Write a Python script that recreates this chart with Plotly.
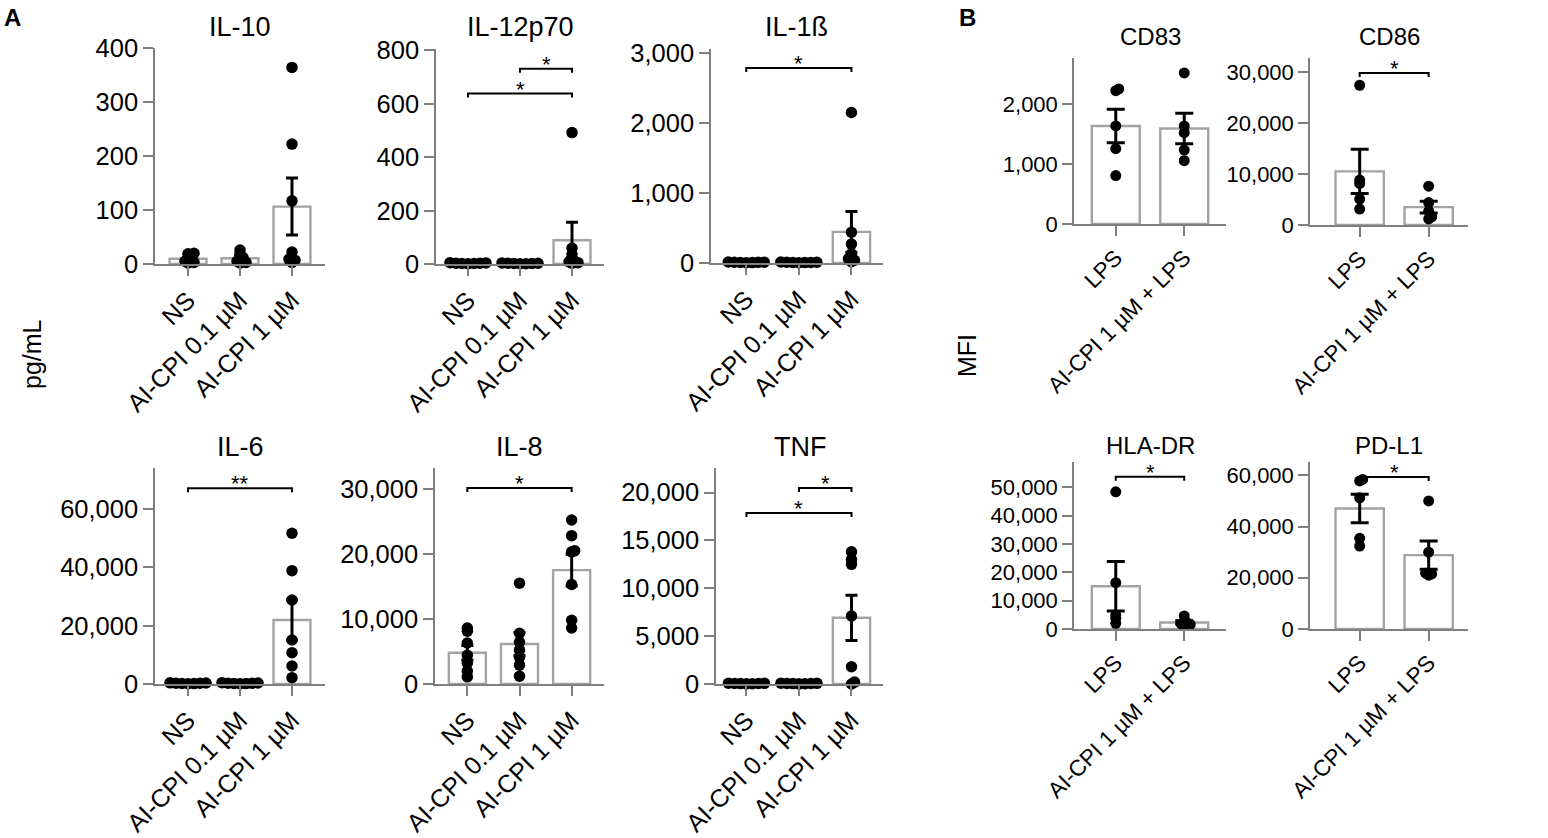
import plotly.graph_objects as go
import numpy as np

W, H = 1548, 838
FONT = "Liberation Sans, Arial, sans-serif"

# ---------------- data ----------------
groups_A = ["NS", "AI-CPI 0.1 µM", "AI-CPI 1 µM"]
groups_B = ["LPS", "AI-CPI 1 µM + LPS"]

il10_ns = [20, 19, 12, 8, 5, 3, 2]
il10_low = [26, 19, 12, 8, 5, 3, 2]
il10_high = [364, 222, 117, 22, 9, 7, 3]

il12_ns = [4, 3, 3, 2, 2, 1, 5]
il12_low = [4, 3, 2, 2, 1, 1, 3]
il12_high = [492, 60, 35, 20, 8, 5, 3]

il1b_ns = [15, 10, 8, 5, 12, 6, 9]
il1b_low = [14, 11, 7, 5, 10, 6, 8]
il1b_high = [2150, 440, 270, 130, 60, 40, 20]

il6_ns = [400, 300, 250, 200, 150, 100, 350]
il6_low = [450, 350, 300, 200, 150, 120, 250]
il6_high = [51700, 38870, 28800, 15100, 10740, 6170, 2170]

il8_ns = [8600, 8100, 6300, 4400, 3200, 2000, 1100]
il8_low = [15500, 7800, 6400, 5200, 4100, 2900, 1200]
il8_high = [25200, 22800, 20500, 20300, 15300, 9800, 8600]

tnf_ns = [80, 60, 50, 40, 30, 20, 70]
tnf_low = [90, 70, 60, 50, 40, 30, 20]
tnf_high = [13800, 13000, 12500, 7100, 1800, 200, 0]

cd83_lps = [2260, 2230, 1640, 1260, 810]
cd83_ai = [2527, 1638, 1527, 1238, 1060]

cd86_lps = [27400, 8800, 8160, 5090, 3130]
cd86_ai = [7600, 4400, 2700, 1600, 1200]

hladr_lps = [48470, 16350, 4940, 3770, 2000]
hladr_ai = [4600, 2200, 1800, 1600, 1400]

pdl1_lps = [58400, 57800, 51200, 35400, 32400]
pdl1_ai = [50000, 30000, 21500, 21000, 21800]

# y tick values per panel
ticks_il10 = [0, 100, 200, 300, 400]
ticks_il12 = [0, 200, 400, 600, 800]
ticks_il1b = [0, 1000, 2000, 3000]
ticks_il6 = [0, 20000, 40000, 60000]
ticks_il8 = [0, 10000, 20000, 30000]
ticks_tnf = [0, 5000, 10000, 15000, 20000]
ticks_cd83 = [0, 1000, 2000]
ticks_cd86 = [0, 10000, 20000, 30000]
ticks_hladr = [0, 10000, 20000, 30000, 40000, 50000]
ticks_pdl1 = [0, 20000, 40000, 60000]

# significance brackets: (panel, from group, to group, height, label)
brackets = [
    ("IL-12p70", 1, 2, 731, "*"),
    ("IL-12p70", 0, 2, 638, "*"),
    ("IL-1ß", 0, 2, 2786, "*"),
    ("IL-6", 0, 2, 67140, "**"),
    ("IL-8", 0, 2, 30110, "*"),
    ("TNF", 1, 2, 20470, "*"),
    ("TNF", 0, 2, 17860, "*"),
    ("CD86", 0, 1, 29800, "*"),
    ("HLA-DR", 0, 1, 53760, "*"),
    ("PD-L1", 0, 1, 59380, "*"),
]

# ---------------- layout (pixel boxes) ----------------
panels = [
    # name, groups, data, (x0, x1, ytop, ybottom), xrange, ymax, ticks, style, title_y
    ("IL-10", groups_A, [il10_ns, il10_low, il10_high], (155, 325, 48, 264), [-0.635, 2.635], 400, ticks_il10, "A", 27),
    ("IL-12p70", groups_A, [il12_ns, il12_low, il12_high], (436, 604, 49, 264), [-0.615, 2.615], 805, ticks_il12, "A", 27),
    ("IL-1ß", groups_A, [il1b_ns, il1b_low, il1b_high], (711, 883, 49, 263), [-0.67, 2.6], 3057, ticks_il1b, "A", 27),
    ("IL-6", groups_A, [il6_ns, il6_low, il6_high], (155, 325, 468, 684), [-0.635, 2.635], 74100, ticks_il6, "A", 447),
    ("IL-8", groups_A, [il8_ns, il8_low, il8_high], (435, 604, 468, 684), [-0.62, 2.62], 33200, ticks_il8, "A", 447),
    ("TNF", groups_A, [tnf_ns, tnf_low, tnf_high], (716, 883, 468, 684), [-0.58, 2.6], 22560, ticks_tnf, "A", 447),
    ("CD83", groups_B, [cd83_lps, cd83_ai], (1074, 1226, 58, 224), [-0.61, 1.61], 2777, ticks_cd83, "B", 37),
    ("CD86", groups_B, [cd86_lps, cd86_ai], (1310, 1468, 58, 225), [-0.72, 1.57], 32740, ticks_cd86, "B", 37),
    ("HLA-DR", groups_B, [hladr_lps, hladr_ai], (1074, 1226, 462, 629), [-0.61, 1.61], 59000, ticks_hladr, "B", 445),
    ("PD-L1", groups_B, [pdl1_lps, pdl1_ai], (1310, 1468, 462, 629), [-0.72, 1.57], 65200, ticks_pdl1, "B", 445),
]

STYLE = {
    "A": dict(tick=25.5, xtick=25, title=27, marker=11.5, cap=6, barw=0.71),
    "B": dict(tick=22, xtick=22.5, title=24, marker=11, cap=9, barw=0.70),
}
AXIS_COLOR = "#7f7f7f"
BAR_LINE = "#a3a3a3"


def swarm(vals, ppu_y, ppu_x, step=3.0, mind=3.2):
    placed = []
    offs = [0.0] * len(vals)
    order = sorted(range(len(vals)), key=lambda i: vals[i])
    cands = [0.0]
    for s in range(1, 15):
        cands += [s * step, -s * step]
    for i in order:
        y = vals[i] * ppu_y
        chosen = cands[-1]
        for c in cands:
            if all((c - px) ** 2 + (y - py) ** 2 >= mind ** 2 for px, py in placed):
                chosen = c
                break
        placed.append((chosen, y))
        offs[i] = chosen / ppu_x
    return offs


fig = go.Figure()
annotations = []
layout_axes = {}
name_to_k = {}

for k, (name, groups, data, box, xr, ymax, tv, st, ty) in enumerate(panels, start=1):
    name_to_k[name] = k
    s = STYLE[st]
    x0, x1, yt, yb = box
    xref = "x" if k == 1 else f"x{k}"
    yref = "y" if k == 1 else f"y{k}"
    ppu_y = (yb - yt) / ymax
    ppu_x = (x1 - x0) / (xr[1] - xr[0])
    cats = list(range(len(groups)))
    means = [float(np.mean(v)) for v in data]
    sems = [float(np.std(v, ddof=1) / np.sqrt(len(v))) for v in data]

    fig.add_trace(go.Bar(
        x=cats, y=means, width=s["barw"], xaxis=xref, yaxis=yref,
        marker=dict(color="white", line=dict(color=BAR_LINE, width=2.4)),
        showlegend=False, hoverinfo="skip"))

    px_, py_ = [], []
    for c, v in zip(cats, data):
        offs = swarm(v, ppu_y, ppu_x)
        px_ += [c + o for o in offs]
        py_ += list(v)
    fig.add_trace(go.Scatter(
        x=px_, y=py_, mode="markers", xaxis=xref, yaxis=yref,
        marker=dict(color="black", size=s["marker"], line=dict(width=0)),
        showlegend=False, cliponaxis=False))

    fig.add_trace(go.Scatter(
        x=cats, y=means, mode="markers", xaxis=xref, yaxis=yref,
        marker=dict(size=1, color="rgba(0,0,0,0)"),
        error_y=dict(type="data", array=sems, color="black", thickness=3, width=s["cap"]),
        showlegend=False, cliponaxis=False))

    axis_common = dict(showgrid=False, zeroline=False, showline=True, automargin=False,
                       linecolor=AXIS_COLOR, linewidth=1.5, ticks="outside",
                       tickcolor=AXIS_COLOR, tickwidth=1.5, ticklen=10)
    layout_axes["xaxis" if k == 1 else f"xaxis{k}"] = dict(
        axis_common, domain=[x0 / W, x1 / W], range=xr, anchor=yref,
        tickvals=cats, ticktext=groups, tickangle=-45,
        tickfont=dict(family=FONT, size=s["xtick"], color="black"))
    layout_axes["yaxis" if k == 1 else f"yaxis{k}"] = dict(
        axis_common, domain=[1 - yb / H, 1 - yt / H], range=[0, ymax], anchor=xref,
        tickvals=tv, tickformat=",d",
        tickfont=dict(family=FONT, size=s["tick"], color="black"))

    annotations.append(dict(
        text=name, x=(x0 + x1) / 2 / W, y=1 - ty / H, xref="paper", yref="paper",
        xanchor="center", yanchor="middle", showarrow=False,
        font=dict(family=FONT, size=s["title"], color="black")))

for (name, g0, g1, yv, lab) in brackets:
    k = name_to_k[name]
    p = panels[k - 1]
    x0, x1, yt, yb = p[3]
    ppu_y = (yb - yt) / p[5]
    dy = 4 / ppu_y
    xref = "x" if k == 1 else f"x{k}"
    yref = "y" if k == 1 else f"y{k}"
    fig.add_trace(go.Scatter(
        x=[g0, g0, g1, g1], y=[yv - dy, yv, yv, yv - dy], mode="lines",
        xaxis=xref, yaxis=yref, line=dict(color="black", width=2),
        showlegend=False, hoverinfo="skip", cliponaxis=False))
    annotations.append(dict(
        text=lab, x=(g0 + g1) / 2, y=yv, xref=xref, yref=yref,
        xanchor="center", yanchor="bottom", yshift=-10, showarrow=False,
        font=dict(family=FONT, size=22, color="black")))

# panel letters and y-axis labels
annotations += [
    dict(text="<b>A</b>", x=2 / W, y=1 - 17 / H, xref="paper", yref="paper",
         xanchor="left", yanchor="middle", showarrow=False,
         font=dict(family=FONT, size=24, color="black")),
    dict(text="<b>B</b>", x=957 / W, y=1 - 17 / H, xref="paper", yref="paper",
         xanchor="left", yanchor="middle", showarrow=False,
         font=dict(family=FONT, size=24, color="black")),
    dict(text="pg/mL", x=32 / W, y=1 - 354 / H, xref="paper", yref="paper",
         xanchor="center", yanchor="middle", textangle=-90, showarrow=False,
         font=dict(family=FONT, size=25, color="black")),
    dict(text="MFI", x=967 / W, y=1 - 355 / H, xref="paper", yref="paper",
         xanchor="center", yanchor="middle", textangle=-90, showarrow=False,
         font=dict(family=FONT, size=25, color="black")),
]

fig.update_layout(
    width=W, height=H, margin=dict(l=0, r=0, t=0, b=0, pad=0),
    paper_bgcolor="white", plot_bgcolor="white",
    showlegend=False, annotations=annotations, barmode="overlay",
    font=dict(family=FONT, color="black"),
    **layout_axes)

fig.write_html("out.html", config={"displayModeBar": False},
               post_script="document.body.style.margin='0';document.body.style.overflow='hidden';")
